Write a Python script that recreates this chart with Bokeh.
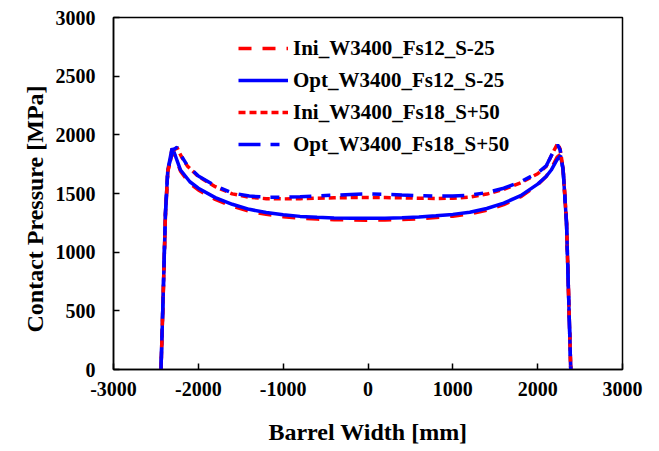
from bokeh.plotting import figure
from bokeh.models import Range1d, FixedTicker, Legend, LegendItem, Title
from bokeh.embed import file_html
from bokeh.resources import INLINE

# ---- data ----
x_fs12 = [-2440, -2415, -2388, -2360, -2310, -2290, -2210, -2100, -2000, -1800, -1600, -1400,
          -1200, -1000, -800, -600, -400, -200, 0, 200, 400, 600, 800, 1000, 1200, 1400, 1600,
          1800, 2000, 2100, 2160, 2230, 2270, 2300, 2340, 2365, 2390]
ini_fs12 = [0, 600, 1300, 1680, 1880, 1850, 1690, 1585, 1530, 1450, 1392, 1350, 1322, 1302, 1290,
            1282, 1277, 1274, 1273, 1275, 1279, 1285, 1295, 1307, 1325, 1358, 1405, 1472, 1575,
            1645, 1710, 1810, 1835, 1710, 1260, 630, 0]
opt_fs12 = [0, 620, 1330, 1700, 1885, 1860, 1700, 1600, 1545, 1465, 1408, 1365, 1338, 1318, 1305,
            1297, 1292, 1289, 1288, 1290, 1294, 1300, 1310, 1322, 1340, 1372, 1418, 1482, 1580,
            1645, 1700, 1790, 1822, 1700, 1250, 620, 0]

x_fs18 = [-2440, -2415, -2388, -2360, -2300, -2250, -2200, -2130, -2000, -1800, -1600, -1400,
          -1200, -1000, -800, -600, -400, -200, 0, 200, 400, 600, 800, 1000, 1200, 1400, 1600,
          1800, 2000, 2100, 2180, 2235, 2265, 2300, 2340, 2365, 2390]
ini_fs18 = [0, 610, 1320, 1690, 1865, 1890, 1815, 1735, 1645, 1558, 1497, 1468, 1456, 1454, 1456,
            1460, 1463, 1465, 1466, 1465, 1463, 1460, 1458, 1460, 1470, 1495, 1535, 1592, 1668,
            1730, 1850, 1925, 1880, 1710, 1260, 630, 0]
opt_fs18 = [0, 620, 1330, 1700, 1870, 1895, 1820, 1740, 1650, 1565, 1505, 1478, 1468, 1468, 1472,
            1479, 1486, 1492, 1497, 1493, 1487, 1482, 1478, 1478, 1486, 1508, 1545, 1600, 1675,
            1735, 1850, 1915, 1870, 1700, 1250, 620, 0]

series_names = ["Ini_W3400_Fs12_S-25", "Opt_W3400_Fs12_S-25",
                "Ini_W3400_Fs18_S+50", "Opt_W3400_Fs18_S+50"]
x_ticks = [-3000, -2000, -1000, 0, 1000, 2000, 3000]
y_ticks = [0, 500, 1000, 1500, 2000, 2500, 3000]
x_title = "Barrel Width [mm]"
y_title = "Contact Pressure [MPa]"

FONT = "Liberation Serif"

p = figure(width=659, height=451, output_backend="svg", toolbar_location=None,
           x_range=Range1d(-3000, 3000), y_range=Range1d(0, 3000),
           min_border_left=113, min_border_right=37, min_border_top=17, min_border_bottom=82)
p.background_fill_color = "white"
p.border_fill_color = "white"
p.grid.visible = False
p.outline_line_color = "black"
p.outline_line_width = 1.5

for ax, ticks in ((p.xaxis[0], x_ticks), (p.yaxis[0], y_ticks)):
    ax.ticker = FixedTicker(ticks=ticks)
    ax.major_label_overrides = {t: str(t) for t in ticks}
    ax.minor_tick_line_color = None
    ax.major_tick_in = 6
    ax.major_tick_out = 0
    ax.major_tick_line_width = 1.5
    ax.axis_line_width = 1.5
    ax.axis_line_color = "black"
    ax.major_label_text_font = FONT
    ax.major_label_text_font_style = "bold"
    ax.major_label_text_font_size = "20px"
    ax.major_label_text_color = "black"

p.xaxis.major_label_standoff = 12
p.yaxis.major_label_standoff = 18

p.xaxis.axis_label = x_title
p.xaxis.axis_label_text_font = FONT
p.xaxis.axis_label_text_font_style = "bold"
p.xaxis.axis_label_text_font_size = "24px"
p.xaxis.axis_label_text_color = "black"
p.xaxis.axis_label_standoff = 20

ytitle = Title(text=y_title, align="left", offset=37, standoff=10,
               text_font=FONT, text_font_style="bold", text_font_size="24px",
               text_color="black")
p.add_layout(ytitle, "left")

r1 = p.line(x_fs12, ini_fs12, line_color="#FF0000", line_width=3.5, line_dash="13 11")
r2 = p.line(x_fs12, opt_fs12, line_color="#0000FF", line_width=3.5)
r3 = p.line(x_fs18, ini_fs18, line_color="#FF0000", line_width=3.5, line_dash="7 4")
r4 = p.line(x_fs18, opt_fs18, line_color="#0000FF", line_width=3.5, line_dash="22 10 9 10")

legend = Legend(items=[LegendItem(label=n, renderers=[r]) for n, r in
                       zip(series_names, [r1, r2, r3, r4])],
                location=(125, 209), padding=0, margin=0, spacing=0,
                glyph_width=50, glyph_height=32, label_height=32, label_standoff=5,
                label_text_font=FONT, label_text_font_style="bold",
                label_text_font_size="21px", label_text_color="black",
                border_line_color=None, background_fill_alpha=0)
p.add_layout(legend, "center")

open("out.html", "w").write(file_html(p, INLINE))
